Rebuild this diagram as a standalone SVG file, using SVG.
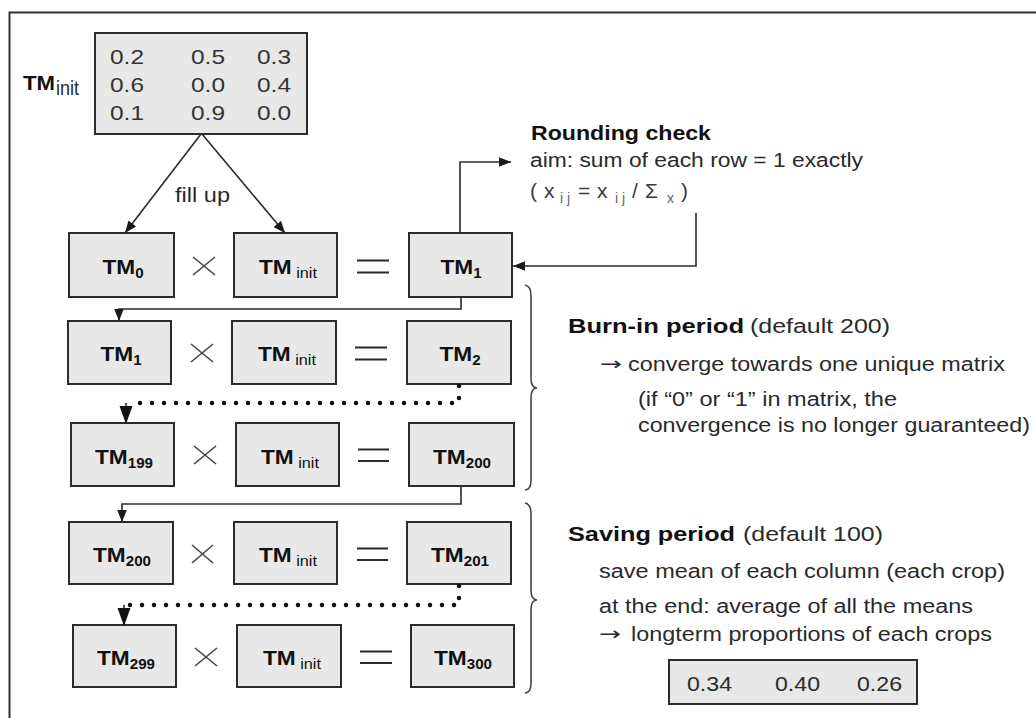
<svg xmlns="http://www.w3.org/2000/svg" width="1036" height="718" viewBox="0 0 1036 718">
  <style>
    text { font-family: "Liberation Sans", Arial, sans-serif; }
    .frame { fill: none; stroke: #333; stroke-width: 2; }
    .box { fill: #e8e8e8; stroke: #2b2b2b; stroke-width: 2; }
    .tm { font-size: 21px; font-weight: bold; fill: #111; }
    .sub { font-size: 14px; font-weight: bold; }
    .subr { font-size: 15px; font-weight: normal; }
    .num { font-size: 21px; fill: #333; }
    .txt { font-size: 20px; fill: #2a2a2a; }
    .arrow { font-family: "DejaVu Sans", sans-serif; font-size: 18px; fill: #2a2a2a; }
    .bold { font-size: 20px; font-weight: bold; fill: #111; }
    .formula { font-size: 21px; fill: #3a3a3a; }
    .fsub { font-size: 14px; fill: #666; }
    .op { fill: none; stroke: #444; stroke-width: 1.6; }
    .eq { fill: none; stroke: #2b2b2b; stroke-width: 2; }
    .link { fill: none; stroke: #2b2b2b; stroke-width: 1.6; }
    .dots { fill: none; stroke: #111; stroke-width: 4.5; stroke-linecap: round; stroke-dasharray: 0 12; }
    .brace { fill: none; stroke: #444; stroke-width: 1.6; }
  </style>
  <defs>
    <marker id="arr" markerUnits="userSpaceOnUse" markerWidth="12" markerHeight="12" viewBox="0 0 10 10" refX="10" refY="5" orient="auto">
      <path d="M0,1 L10,5 L0,9 Z" fill="#1a1a1a"/>
    </marker>
    <marker id="arrBig" markerUnits="userSpaceOnUse" markerWidth="18" markerHeight="14" viewBox="0 0 18 14" refX="17" refY="7" orient="auto">
      <path d="M0,0.5 L18,7 L0,13.5 Z" fill="#111"/>
    </marker>
  </defs>

  <!-- outer frame (top and left edges) -->
  <path class="frame" d="M9.5,718 V12.5 H1036"/>

  <!-- initial transition matrix -->
  <g id="tm-init-matrix">
    <text class="tm" x="23" y="90" textLength="32" lengthAdjust="spacingAndGlyphs">TM</text>
    <text class="txt" x="56" y="95" font-size="15" font-weight="normal" textLength="23" lengthAdjust="spacingAndGlyphs">init</text>
    <rect class="box" x="95" y="33" width="212" height="101"/>
    <text class="num" x="110" y="64" textLength="34" lengthAdjust="spacingAndGlyphs">0.2</text>
    <text class="num" x="191" y="64" textLength="34" lengthAdjust="spacingAndGlyphs">0.5</text>
    <text class="num" x="257" y="64" textLength="34" lengthAdjust="spacingAndGlyphs">0.3</text>
    <text class="num" x="110" y="92" textLength="34" lengthAdjust="spacingAndGlyphs">0.6</text>
    <text class="num" x="191" y="92" textLength="34" lengthAdjust="spacingAndGlyphs">0.0</text>
    <text class="num" x="257" y="92" textLength="34" lengthAdjust="spacingAndGlyphs">0.4</text>
    <text class="num" x="110" y="120" textLength="34" lengthAdjust="spacingAndGlyphs">0.1</text>
    <text class="num" x="191" y="120" textLength="34" lengthAdjust="spacingAndGlyphs">0.9</text>
    <text class="num" x="257" y="120" textLength="34" lengthAdjust="spacingAndGlyphs">0.0</text>
  </g>

  <g id="fill-up-label">
    <text class="txt" x="175" y="202" textLength="55" lengthAdjust="spacingAndGlyphs">fill up</text>
  </g>

  <!-- row 1: TM0 x TMinit = TM1 -->
  <g id="row1-tm0">
    <rect class="box" x="69" y="233" width="105" height="64"/>
    <text class="tm" transform="translate(123 274) scale(1.08 1)" text-anchor="middle">TM<tspan class="sub" dy="4">0</tspan></text>
  </g>
  <g id="row1-times"><path class="op" d="M193,257 L215,275 M193,275 L215,257"/></g>
  <g id="row1-tminit">
    <rect class="box" x="234" y="233" width="103" height="64"/>
    <text class="tm" transform="translate(288 274) scale(1.08 1)" text-anchor="middle">TM<tspan class="subr" dy="4"> init</tspan></text>
  </g>
  <g id="row1-equals"><path class="eq" d="M357,260.5 H389 M357,272.5 H389"/></g>
  <g id="row1-tm1">
    <rect class="box" x="409" y="233" width="103" height="64"/>
    <text class="tm" transform="translate(461 274) scale(1.08 1)" text-anchor="middle">TM<tspan class="sub" dy="4">1</tspan></text>
  </g>

  <!-- row 2: TM1 x TMinit = TM2 -->
  <g id="row2-tm1">
    <rect class="box" x="68" y="321" width="103" height="63"/>
    <text class="tm" transform="translate(121 361) scale(1.08 1)" text-anchor="middle">TM<tspan class="sub" dy="4">1</tspan></text>
  </g>
  <g id="row2-times"><path class="op" d="M191,344 L213,362 M191,362 L213,344"/></g>
  <g id="row2-tminit">
    <rect class="box" x="232" y="321" width="104" height="63"/>
    <text class="tm" transform="translate(287 361) scale(1.08 1)" text-anchor="middle">TM<tspan class="subr" dy="4"> init</tspan></text>
  </g>
  <g id="row2-equals"><path class="eq" d="M355,347.5 H387 M355,359.5 H387"/></g>
  <g id="row2-tm2">
    <rect class="box" x="407" y="321" width="104" height="63"/>
    <text class="tm" transform="translate(460 361) scale(1.08 1)" text-anchor="middle">TM<tspan class="sub" dy="4">2</tspan></text>
  </g>

  <!-- row 3: TM199 x TMinit = TM200 -->
  <g id="row3-tm199">
    <rect class="box" x="71" y="423" width="103" height="63"/>
    <text class="tm" transform="translate(124 464) scale(1.08 1)" text-anchor="middle">TM<tspan class="sub" dy="4">199</tspan></text>
  </g>
  <g id="row3-times"><path class="op" d="M194,446 L216,464 M194,464 L216,446"/></g>
  <g id="row3-tminit">
    <rect class="box" x="236" y="423" width="103" height="63"/>
    <text class="tm" transform="translate(290 464) scale(1.08 1)" text-anchor="middle">TM<tspan class="subr" dy="4"> init</tspan></text>
  </g>
  <g id="row3-equals"><path class="eq" d="M358,449.5 H389 M358,461 H389"/></g>
  <g id="row3-tm200">
    <rect class="box" x="409" y="423" width="105" height="63"/>
    <text class="tm" transform="translate(462 464) scale(1.08 1)" text-anchor="middle">TM<tspan class="sub" dy="4">200</tspan></text>
  </g>

  <!-- row 4: TM200 x TMinit = TM201 -->
  <g id="row4-tm200">
    <rect class="box" x="69" y="522" width="104" height="62"/>
    <text class="tm" transform="translate(122 562) scale(1.08 1)" text-anchor="middle">TM<tspan class="sub" dy="4">200</tspan></text>
  </g>
  <g id="row4-times"><path class="op" d="M192,545 L213,563 M192,563 L213,545"/></g>
  <g id="row4-tminit">
    <rect class="box" x="234" y="522" width="103" height="62"/>
    <text class="tm" transform="translate(288 562) scale(1.08 1)" text-anchor="middle">TM<tspan class="subr" dy="4"> init</tspan></text>
  </g>
  <g id="row4-equals"><path class="eq" d="M357,548.5 H388 M357,560 H388"/></g>
  <g id="row4-tm201">
    <rect class="box" x="407" y="522" width="104" height="62"/>
    <text class="tm" transform="translate(460 562) scale(1.08 1)" text-anchor="middle">TM<tspan class="sub" dy="4">201</tspan></text>
  </g>

  <!-- row 5: TM299 x TMinit = TM300 -->
  <g id="row5-tm299">
    <rect class="box" x="73" y="625" width="103" height="62"/>
    <text class="tm" transform="translate(126 665) scale(1.08 1)" text-anchor="middle">TM<tspan class="sub" dy="4">299</tspan></text>
  </g>
  <g id="row5-times"><path class="op" d="M195,648 L217,666 M195,666 L217,648"/></g>
  <g id="row5-tminit">
    <rect class="box" x="237" y="625" width="104" height="62"/>
    <text class="tm" transform="translate(292 665) scale(1.08 1)" text-anchor="middle">TM<tspan class="subr" dy="4"> init</tspan></text>
  </g>
  <g id="row5-equals"><path class="eq" d="M360,651.5 H392 M360,663 H392"/></g>
  <g id="row5-tm300">
    <rect class="box" x="411" y="625" width="103" height="62"/>
    <text class="tm" transform="translate(463 665) scale(1.08 1)" text-anchor="middle">TM<tspan class="sub" dy="4">300</tspan></text>
  </g>

  <!-- rounding check note -->
  <g id="rounding-check">
    <text class="bold" x="531" y="140" textLength="180" lengthAdjust="spacingAndGlyphs">Rounding check</text>
    <text class="txt" x="530" y="167" textLength="333" lengthAdjust="spacingAndGlyphs">aim: sum of each row = 1 exactly</text>
    <text class="formula" y="198">
      <tspan x="530">(</tspan><tspan x="544">x</tspan><tspan class="fsub" x="560" y="203">i j</tspan><tspan x="578" y="198">=</tspan><tspan x="597">x</tspan><tspan class="fsub" x="615" y="203">i j</tspan><tspan x="632" y="198">/</tspan><tspan x="645">Σ</tspan><tspan class="fsub" x="667" y="203">x</tspan><tspan x="681" y="198">)</tspan>
    </text>
  </g>

  <!-- burn-in period note -->
  <g id="burn-in">
    <path class="brace" d="M525,285 Q531,286 531,296 V378 Q531,388 537,388 Q531,388 531,398 V480 Q531,490 525,490"/>
    <text class="bold" x="568" y="333" textLength="176" lengthAdjust="spacingAndGlyphs">Burn-in period</text>
    <text class="txt" x="750" y="333" textLength="140" lengthAdjust="spacingAndGlyphs">(default 200)</text>
    <text class="arrow" x="600" y="370" textLength="22" lengthAdjust="spacingAndGlyphs">→</text>
    <text class="txt" x="628" y="371" textLength="377" lengthAdjust="spacingAndGlyphs">converge towards one unique matrix</text>
    <text class="txt" x="638" y="406" textLength="259" lengthAdjust="spacingAndGlyphs">(if “0” or “1” in matrix, the</text>
    <text class="txt" x="638" y="432" textLength="392" lengthAdjust="spacingAndGlyphs">convergence is no longer guaranteed)</text>
  </g>

  <!-- saving period note -->
  <g id="saving">
    <path class="brace" d="M525,503 Q531,504 531,514 V590 Q531,600 537,600 Q531,600 531,610 V683 Q531,693 525,693"/>
    <text class="bold" x="568" y="541" textLength="167" lengthAdjust="spacingAndGlyphs">Saving period</text>
    <text class="txt" x="743" y="541" textLength="140" lengthAdjust="spacingAndGlyphs">(default 100)</text>
    <text class="txt" x="599" y="578" textLength="406" lengthAdjust="spacingAndGlyphs">save mean of each column (each crop)</text>
    <text class="txt" x="599" y="613" textLength="374" lengthAdjust="spacingAndGlyphs">at the end: average of all the means</text>
    <text class="arrow" x="599" y="640" textLength="22" lengthAdjust="spacingAndGlyphs">→</text>
    <text class="txt" x="631" y="641" textLength="361" lengthAdjust="spacingAndGlyphs">longterm proportions of each crops</text>
  </g>

  <g id="result-vector">
    <rect class="box" x="669" y="660" width="248" height="44"/>
    <text class="txt" x="687" y="691" textLength="45" lengthAdjust="spacingAndGlyphs">0.34</text>
    <text class="txt" x="775" y="691" textLength="45" lengthAdjust="spacingAndGlyphs">0.40</text>
    <text class="txt" x="857" y="691" textLength="45" lengthAdjust="spacingAndGlyphs">0.26</text>
  </g>

  <!-- connectors -->
  <g id="connectors">
    <path class="link" d="M201,134 L125,233" marker-end="url(#arr)"/>
    <path class="link" d="M202,134 L285,233" marker-end="url(#arr)"/>
    <path class="link" d="M460,233 V162 H511" marker-end="url(#arr)"/>
    <path class="link" d="M696,213 V266 H513" marker-end="url(#arr)"/>
    <path class="link" d="M461,297 V309 H119 V321" marker-end="url(#arr)"/>
    <path class="dots" d="M459,386 V403 H130"/>
    <path class="link" d="M126,403 V423" stroke-width="2" marker-end="url(#arrBig)"/>
    <path class="link" d="M461,486 V504 H122 V522" marker-end="url(#arr)"/>
    <path class="dots" d="M459,586 V605 H128"/>
    <path class="link" d="M124,605 V625" stroke-width="2" marker-end="url(#arrBig)"/>
  </g>
</svg>
